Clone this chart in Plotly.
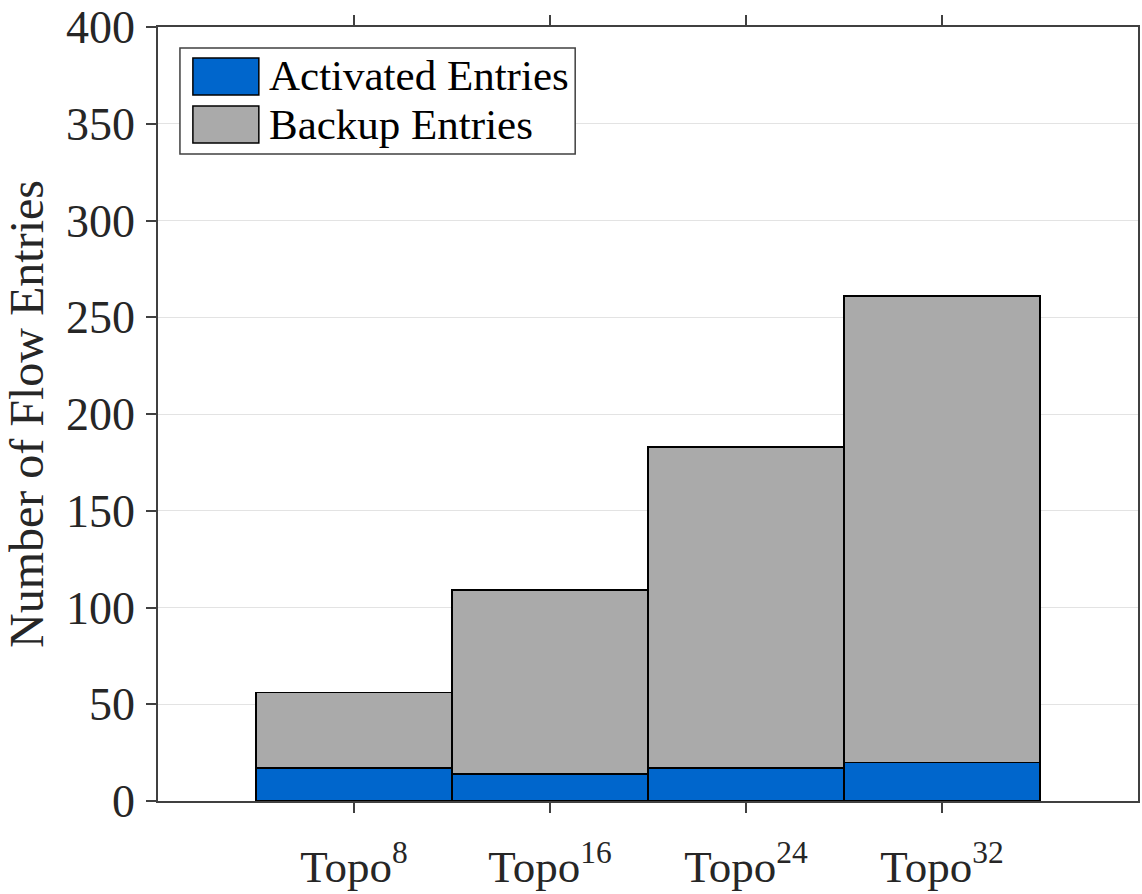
import plotly.graph_objects as go

categories = ["Topo<sup>8</sup>", "Topo<sup>16</sup>", "Topo<sup>24</sup>", "Topo<sup>32</sup>"]
positions = [1, 2, 3, 4]
activated = [17, 14, 17, 20]
totals = [56, 109, 183, 261]
backup = [t - a for t, a in zip(totals, activated)]
series_names = ["Activated Entries", "Backup Entries"]
series_colors = ["#0066CC", "#AAAAAA"]
y_ticks = [0, 50, 100, 150, 200, 250, 300, 350, 400]

FONT = "'Liberation Serif', 'Times New Roman', serif"
TXT = "#262626"
AX = "#404040"

fig = go.Figure()
for name, vals, col in zip(series_names, [activated, backup], series_colors):
    fig.add_trace(go.Bar(
        x=positions, y=vals, name=name, width=1,
        marker=dict(color=col, line=dict(color="black", width=1.5)),
        showlegend=False,
    ))

fig.update_layout(
    barmode="stack",
    width=1142, height=894,
    margin=dict(l=158, r=2, t=27, b=93),
    paper_bgcolor="white", plot_bgcolor="white",
    font=dict(family=FONT, color=TXT, size=44),
    xaxis=dict(
        range=[0, 5], tickvals=positions, ticktext=categories,
        showline=True, linecolor=AX, linewidth=1.5, mirror="ticks",
        ticks="outside", ticklen=10, tickwidth=1.5, tickcolor=AX,
        showgrid=False, zeroline=False, ticklabelstandoff=15,
        tickfont=dict(size=45, family=FONT, color=TXT),
    ),
    yaxis=dict(
        range=[0, 400], tickvals=y_ticks,
        showline=True, linecolor=AX, linewidth=1.5, mirror=True,
        ticks="outside", ticklen=10, tickwidth=1.5, tickcolor=AX,
        showgrid=True, gridcolor="#E3E3E3", gridwidth=1,
        zeroline=False, ticklabelstandoff=2,
        tickfont=dict(size=46, family=FONT, color=TXT),
        title=dict(text="Number of Flow Entries", font=dict(size=48, family=FONT, color=TXT), standoff=10),
    ),
)

# custom legend (MATLAB style) in paper coordinates
fig.add_shape(type="rect", xref="paper", yref="paper",
              x0=0.0224, x1=0.4257, y0=0.8359, y1=0.9729,
              fillcolor="white", line=dict(color=AX, width=1.5), layer="above")
sw_y = [(0.912, 0.960), (0.8501, 0.8978)]
txt_y = [0.9367, 0.8734]
for name, col, (y0, y1), ty in zip(series_names, series_colors, sw_y, txt_y):
    fig.add_shape(type="rect", xref="paper", yref="paper",
                  x0=0.0356, x1=0.1029, y0=y0, y1=y1,
                  fillcolor=col, line=dict(color="black", width=1.5), layer="above")
    fig.add_annotation(xref="paper", yref="paper", x=0.111, y=ty,
                       text=name, showarrow=False, xanchor="left", yanchor="middle",
                       font=dict(size=43, family=FONT, color="black"))

fig.write_html("out.html")
